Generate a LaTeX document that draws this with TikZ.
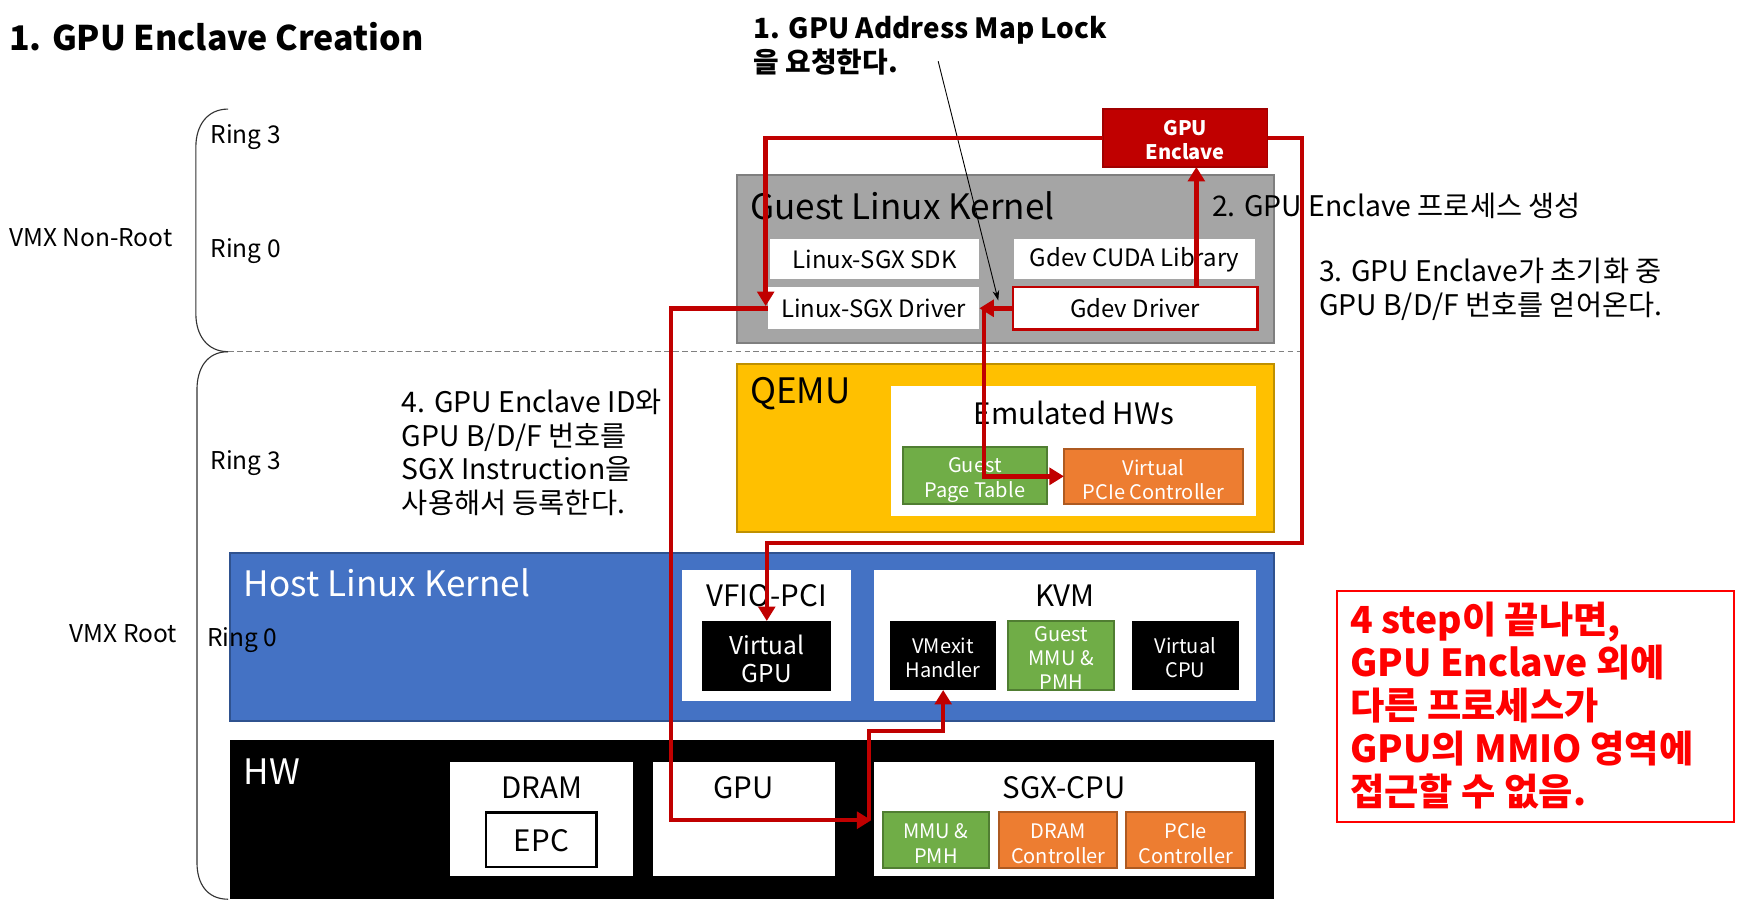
\documentclass[tikz,border=0pt]{standalone}
\usepackage{fontspec}
\setmainfont{Noto Sans CJK KR}
\usetikzlibrary{arrows.meta}
\definecolor{encred}{HTML}{C00000}
\definecolor{encredd}{HTML}{A00000}
\definecolor{kgray}{HTML}{A5A5A5}
\definecolor{kgrayd}{HTML}{7F7F7F}
\definecolor{qyel}{HTML}{FFC000}
\definecolor{qyeld}{HTML}{BF9000}
\definecolor{hblue}{HTML}{4472C4}
\definecolor{hblued}{HTML}{2F528F}
\definecolor{hgreen}{HTML}{70AD47}
\definecolor{hgreend}{HTML}{507E32}
\definecolor{horange}{HTML}{ED7D31}
\definecolor{horanged}{HTML}{AE5A21}
\definecolor{notered}{HTML}{FF0000}
\newcommand\fsz[2]{\fontsize{#1}{#2}\selectfont}
\newcommand\tpad[1]{\rule{0pt}{#1}}
\begin{document}
\begin{tikzpicture}[x=1pt,y=-1pt,
  box/.style={inner sep=0pt, outer sep=0pt, align=center},
  whitebox/.style={box, fill=white},
  blackbox/.style={box, fill=black, text=white, font=\fsz{18}{21}},
  greenbox/.style={box, fill=hgreen, draw=hgreend, line width=1.8pt, text=white, font=\fsz{18}{22}},
  orangebox/.style={box, fill=horange, draw=horanged, line width=1.8pt, text=white, font=\fsz{18}{22}},
  midlabel/.style={inner sep=0pt, font=\fsz{26.5}{30}},
  biglabel/.style={inner sep=0pt, anchor=west, font=\fsz{31.5}{34}},
  smalllabel/.style={inner sep=0pt, font=\fsz{21.5}{24}},
  ringlabel/.style={inner sep=0pt, anchor=west, font=\fsz{22}{24}},
  annot/.style={inner sep=0pt, anchor=west, align=left, font=\fsz{25.5}{30.3}},
  bracket/.style={draw=black!80, line width=1pt},
  redline/.style={draw=encred, line width=4pt},
  redarrow/.style={redline, -{Triangle[length=13pt,width=15pt]}},
]
\useasboundingbox (0,0) rectangle (1568,817.7);
\fill[white] (0,0) rectangle (1568,817.7);

% title and annotations
\node[inner sep=0pt, anchor=west, font=\bfseries\fsz{30.5}{36}] (title) at (8,33) {1. GPU Enclave Creation};
\node[inner sep=0pt, anchor=west, align=left, font=\bfseries\fsz{25}{30}] (lock) at (677,41) {1. GPU Address Map Lock\\을 요청한다.};

% brackets and separator
\draw[bracket] (205,98) .. controls (186,98) and (176,113) .. (176,132) -- (176,282) .. controls (176,301) and (186,316) .. (205,316);
\draw[bracket] (205,316) .. controls (186,316) and (177,331) .. (177,350) -- (177,775) .. controls (177,794) and (186,808) .. (205,808);
\draw[draw=black!50, line width=1.3pt, dash pattern=on 5pt off 3pt] (205,316) -- (1168,316);

\node[ringlabel] (r3a) at (189,123) {Ring 3};
\node[ringlabel] (r0a) at (189,226) {Ring 0};
\node[ringlabel] (vnr) at (8,214) {VMX Non-Root};
\node[ringlabel] (r3b) at (189,416) {Ring 3};
\node[inner sep=0pt, anchor=east, font=\fsz{22}{24}] (vr) at (159,569) {VMX Root};

% guest linux kernel
\node[box, fill=kgray, draw=kgrayd, line width=2pt, minimum width=483pt, minimum height=151pt] (guest) at (903.5,232.5) {};
\node[biglabel] (guestt) at (674,185) {Guest Linux Kernel};
\node[whitebox, smalllabel, minimum width=188pt, minimum height=36pt] (sdk) at (786,233) {Linux-SGX SDK};
\node[whitebox, smalllabel, minimum width=217pt, minimum height=36pt] (cuda) at (1019.5,233) {Gdev CUDA Library};
\node[whitebox, smalllabel, minimum width=190pt, minimum height=38pt] (sgxdrv) at (785,277) {Linux-SGX Driver};
\node[whitebox, smalllabel, draw=encred, line width=2pt, minimum width=220pt, minimum height=38pt] (gdevdrv) at (1020,277) {Gdev Driver};

% GPU enclave
\node[box, fill=encred, draw=encredd, line width=1.5pt, text=white, font=\bfseries\fsz{18}{22}, minimum width=148pt, minimum height=52pt] (enclave) at (1065,124) {\tpad{17pt}GPU\\Enclave};

% QEMU
\node[box, fill=qyel, draw=qyeld, line width=2pt, minimum width=483pt, minimum height=151pt] (qemu) at (903.5,402.5) {};
\node[biglabel] (qemut) at (674,354) {QEMU};
\node[whitebox, minimum width=328pt, minimum height=117pt] (emu) at (965,405.5) {};
\node[midlabel] (emut) at (965,371) {Emulated HWs};
\node[greenbox, minimum width=130pt, minimum height=51pt] (gpt) at (876,427.5) {\tpad{21.5pt}Guest\\Page Table};
\node[orangebox, minimum width=161pt, minimum height=50pt] (vpcie) at (1036.5,428) {\tpad{20pt}Virtual\\PCIe Controller};

% host linux kernel
\node[box, fill=hblue, draw=hblued, line width=2pt, minimum width=938pt, minimum height=151pt] (host) at (676,572.5) {};
\node[biglabel, text=white] (hostt) at (219,524) {Host Linux Kernel};
\node[ringlabel] (r0b) at (186,575) {Ring 0};
\node[whitebox, minimum width=152pt, minimum height=118pt] (vfio) at (689,571) {};
\node[midlabel] (vfiot) at (689,535) {VFIO-PCI};
\node[blackbox, font=\fsz{22}{25}, minimum width=116pt, minimum height=63pt] (vgpu) at (689,589.5) {\tpad{23pt}Virtual\\GPU};
\node[whitebox, minimum width=344pt, minimum height=118pt] (kvm) at (957,571) {};
\node[midlabel] (kvmt) at (957,535) {KVM};
\node[blackbox, minimum width=95pt, minimum height=62pt] (vmexit) at (847.5,589) {\tpad{18.5pt}VMexit\\Handler};
\node[greenbox, font=\fsz{18}{21.5}, minimum width=95pt, minimum height=62pt] (gmmu) at (953.5,589) {\tpad{18.5pt}Guest\\MMU \&\\PMH};
\node[blackbox, minimum width=96pt, minimum height=62pt] (vcpu) at (1065,589) {\tpad{18.5pt}Virtual\\CPU};

% HW
\node[box, fill=black, minimum width=938pt, minimum height=143pt] (hw) at (676,736.5) {};
\node[biglabel, text=white] (hwt) at (219,693) {HW};
\node[whitebox, minimum width=165pt, minimum height=102pt] (dram) at (486.5,736) {};
\node[midlabel] (dramt) at (487,708) {DRAM};
\node[box, fill=white, draw=black, line width=2pt, font=\fsz{26.5}{30}, minimum width=99pt, minimum height=49pt] (epc) at (486.5,754.5) {\tpad{21pt}EPC};
\node[whitebox, minimum width=163pt, minimum height=102pt] (gpu) at (668.5,736) {};
\node[midlabel] (gput) at (668,708) {GPU};
\node[whitebox, minimum width=343pt, minimum height=102pt] (sgxcpu) at (956.5,736) {};
\node[midlabel] (sgxcput) at (956,708) {SGX-CPU};
\node[greenbox, minimum width=96pt, minimum height=50pt] (mmu) at (841,755) {\tpad{19pt}MMU \&\\PMH};
\node[orangebox, minimum width=106pt, minimum height=50pt] (dramc) at (951,755) {\tpad{19.5pt}DRAM\\Controller};
\node[orangebox, minimum width=107pt, minimum height=50pt] (pciec) at (1065.5,755) {\tpad{19.5pt}PCIe\\Controller};

% annotations
\node[annot] (step2) at (1089,185) {2. GPU Enclave 프로세스 생성};
\node[annot] (step3) at (1185,260) {3. GPU Enclave가 초기화 중\\GPU B/D/F 번호를 얻어온다.};
\node[annot] (step4) at (361,406.5) {4. GPU Enclave ID와\\GPU B/D/F 번호를\\SGX Instruction을\\사용해서 등록한다.};

% note box
\node[box, draw=notered, line width=1.8pt, minimum width=357pt, minimum height=208pt] (note) at (1379.5,635) {};
\node[inner sep=0pt, anchor=west, align=left, text=notered, font=\bfseries\fsz{33.5}{38.5}] (notet) at (1213,634) {4 step이 끝나면,\\GPU Enclave 외에\\다른 프로세스가\\GPU의 MMIO 영역에\\접근할 수 없음.};

% connectors
\coordinate (lockfrom) at (843,55);
\coordinate (locktip) at (897,270);
\draw[black, line width=0.8pt, -{Stealth[length=9pt,width=6pt]}] (lockfrom) -- (locktip);

\coordinate (sgxin) at (688,275);
\coordinate (cpuin) at (783,737);
\coordinate (leftbus) at (603,277);
\draw[redarrow] (enclave.west) -| (sgxin);
\draw[redarrow] (sgxdrv.west) -- (leftbus) |- (cpuin);
\draw[redarrow] (781,737) -- (781,657) -| (vmexit.south);
\draw[redarrow] ([xshift=55pt]gdevdrv.north) -- ([xshift=10pt]enclave.south);
\draw[redarrow] (enclave.east) -- (1170,124) -- (1170,488) -| (vgpu.north);
\draw[redarrow] (gdevdrv.west) -- (sgxdrv.east);
\draw[redarrow] (884,277) |- (vpcie.west);
\end{tikzpicture}
\end{document}
